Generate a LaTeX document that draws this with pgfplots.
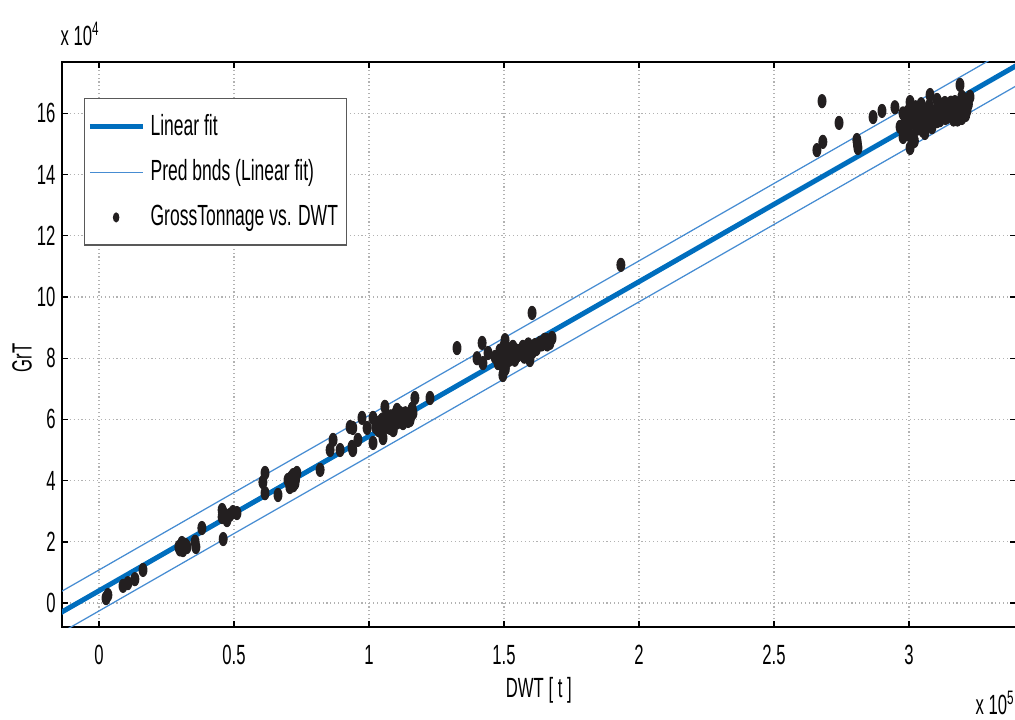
\documentclass[border=0pt]{standalone}
\usepackage{fontspec}
\setmainfont{Liberation Sans}[FakeStretch=0.6]
\usepackage{pgfplots}
\pgfplotsset{compat=1.18}
\definecolor{fitblue}{RGB}{0,110,190}
\definecolor{bndblue}{RGB}{70,140,210}
\definecolor{dotcol}{RGB}{35,31,32}
\pgfplotsset{
  linelegend/.style={legend image code/.code={\draw[##1] (0pt,0pt) -- (19pt,0pt);}},
  dotlegend/.style={legend image code/.code={\draw[##1, mark size=1.6pt] plot coordinates {(9.5pt,0pt)};}},
}
\begin{document}
\begin{tikzpicture}
\useasboundingbox (0pt,0pt) rectangle (365.4pt,258.84pt);
\begin{axis}[
  at={(22.32pt,33.12pt)}, anchor=south west,
  scale only axis, width=343.3pt, height=203.4pt,
  xmin=-0.137, xmax=3.395, ymin=-0.784, ymax=17.68,
  xtick={0,0.5,1,1.5,2,2.5,3}, ytick={0,2,4,6,8,10,12,14,16},
  scaled ticks=false,
  /pgf/number format/assume math mode=true,
  xticklabel style={/pgf/number format/fixed, yshift=-3pt},
  yticklabel style={xshift=1.2pt},
  tick label style={font=\fontsize{10}{12}\selectfont},
  tick align=inside, major tick length=2.2pt,
  tick style={black, line width=0.5pt},
  grid=major,
  major grid style={gray!60, densely dotted, line width=0.45pt},
  axis line style={black, line width=0.6pt},
  xlabel={DWT [ t ]}, ylabel={GrT},
  every axis x label/.style={at={(rel axis cs:0.5,0)}, anchor=center, yshift=-22.7pt, font=\fontsize{10}{12}\selectfont},
  every axis y label/.style={at={(rel axis cs:-0.042,0.476)}, anchor=center, rotate=90, font=\fontsize{10}{12}\selectfont},
  legend style={at={(rel axis cs:0.023,0.936)}, anchor=north west,
    draw=gray!70!black, fill=white, font=\fontsize{10.5}{12}\selectfont,
    row sep=3.3pt, inner xsep=1pt, inner ysep=3.5pt, cells={anchor=west}},
  legend cell align=left,
]
\addplot[fitblue, line width=1.8pt, linelegend]
  coordinates {(-0.2,-0.61) (0,0.40) (0.5,2.93) (1,5.45) (1.5,7.98) (2,10.50) (2.5,13.03) (3,15.55) (3.5,18.08)};
\addlegendentry{Linear fit}
\addplot[bndblue, line width=0.45pt, linelegend]
  coordinates {(-0.2,0.07) (0,1.08) (0.5,3.61) (1,6.13) (1.5,8.66) (2,11.18) (2.5,13.71) (3,16.23) (3.5,18.76)};
\addlegendentry{Pred bnds (Linear fit)}
\addplot[bndblue, line width=0.45pt, forget plot]
  coordinates {(-0.2,-1.27) (0,-0.26) (0.5,2.27) (1,4.79) (1.5,7.32) (2,9.84) (2.5,12.37) (3,14.89) (3.5,17.42)};
\addplot[only marks, mark=*, mark size=2.35pt, color=dotcol,
  mark options={xscale=0.6, fill=dotcol, draw=dotcol}, dotlegend]
  coordinates {
(0.026,0.16)(0.033,0.26)(0.089,0.56)(0.107,0.65)(0.133,0.78)(0.163,1.08)
(0.296,1.83)(0.311,1.73)(0.326,1.83)(0.307,1.96)(0.356,2.0)(0.359,1.83)(0.381,2.45)(0.30,1.75)(0.32,1.9)
(0.456,3.04)(0.456,2.81)(0.46,2.09)(0.474,2.71)(0.496,2.97)(0.511,2.94)(0.485,2.88)(0.46,2.95)(0.47,2.85)
(0.615,4.25)(0.607,3.95)(0.615,3.59)(0.663,3.53)(0.70,4.02)(0.719,4.18)(0.733,4.25)(0.707,3.79)(0.726,3.92)(0.712,4.1)(0.72,3.85)(0.705,4.0)(0.728,4.05)(0.716,3.95)
(0.819,4.35)(0.856,5.0)(0.867,5.33)(0.893,5.0)(0.93,5.75)(0.94,5.72)(0.937,5.1)(0.94,5.0)(0.959,5.33)(0.974,6.05)(0.993,5.72)(1.015,5.23)(1.015,6.05)(1.033,5.88)(1.048,5.56)(1.059,6.41)(1.067,6.08)(1.089,5.98)(1.115,6.21)(1.126,5.88)(1.152,5.98)(1.163,6.21)(1.17,6.7)(1.226,6.7)(1.078,5.72)(1.052,5.39)(1.104,6.31)(1.04,5.8)(1.06,5.9)(1.08,6.1)(1.10,6.0)(1.12,6.1)(1.14,6.1)(1.05,6.0)(1.07,5.75)(1.13,6.05)
(1.035,5.65)(1.045,5.95)(1.065,5.85)(1.085,5.8)(1.095,6.15)(1.105,5.9)(1.118,5.95)(1.135,6.2)(1.145,5.95)(1.155,6.1)(1.16,6.35)(1.025,5.75)(1.09,5.65)
(1.326,8.33)(1.419,8.5)(1.4,8.0)(1.422,7.84)(1.441,8.17)(1.467,8.04)(1.478,7.84)(1.496,7.45)(1.504,8.59)(1.504,8.27)(1.511,7.88)(1.522,8.04)(1.533,8.37)(1.552,8.1)(1.57,8.37)(1.585,8.17)(1.596,7.94)(1.604,9.48)(1.615,8.43)(1.633,8.5)(1.659,8.59)(1.67,8.5)(1.678,8.66)(1.49,8.1)(1.50,8.0)(1.51,8.15)(1.52,7.95)(1.49,7.9)(1.50,8.4)(1.58,8.3)(1.59,8.1)(1.60,8.3)(1.64,8.45)(1.66,8.45)
(1.485,8.25)(1.495,7.75)(1.505,7.65)(1.515,8.3)(1.525,8.2)(1.54,7.95)(1.545,8.25)(1.56,8.25)(1.575,8.05)(1.59,8.45)(1.605,8.2)(1.62,8.3)(1.65,8.6)
(1.933,11.05)
(2.678,16.4)(2.659,14.8)(2.681,15.07)(2.741,15.69)(2.807,15.13)(2.811,14.87)(2.809,15.0)(2.867,15.88)(2.9,16.08)
(2.948,16.2)(2.978,16.0)(2.978,15.23)(3.004,16.37)(3.004,14.87)(3.011,15.69)(3.015,15.23)(2.993,15.78)(3.03,16.0)(3.04,15.56)(3.059,15.36)(3.067,15.78)(3.078,16.6)(3.089,16.0)(3.104,16.44)(3.115,15.78)(3.133,16.34)(3.141,15.88)(3.152,16.18)(3.17,16.37)(3.178,16.0)(3.189,16.93)(3.196,16.54)(3.196,15.85)(3.215,16.1)(3.226,16.54)(3.207,16.2)(2.967,15.56)
(2.99,15.9)(3.0,15.6)(3.01,16.0)(3.02,15.8)(3.03,15.5)(3.05,15.9)(3.06,16.1)(3.07,15.6)(3.08,15.9)(3.09,15.7)(3.10,16.1)(3.11,16.0)(3.12,15.9)(3.13,16.1)(3.14,16.2)(3.16,15.9)(3.17,16.2)(3.18,15.8)(3.19,16.1)(3.20,16.3)(3.21,15.95)(3.22,16.3)(2.98,15.4)(3.0,15.3)(3.02,15.1)(3.025,16.2)(3.045,16.3)(3.005,16.2)
(2.985,15.65)(2.995,16.05)(3.015,15.95)(3.025,15.65)(3.035,15.85)(3.055,15.7)(3.065,16.0)(3.075,16.25)(3.085,15.55)(3.095,15.9)(3.105,15.75)(3.115,16.3)(3.125,16.1)(3.135,15.85)(3.145,16.0)(3.155,16.35)(3.165,16.05)(3.175,15.9)(3.185,16.3)(3.195,16.2)(3.205,16.45)(3.215,16.35)(3.185,15.95)(3.165,15.8)(3.05,15.45)(3.0,15.95)(3.04,16.15)
  };
\addlegendentry{GrossTonnage vs. DWT}
\end{axis}
\node[anchor=base west, inner sep=0pt, font=\fontsize{10}{12}\selectfont] at (21.6pt,242.6pt) {x 10\textsuperscript{4}};
\node[anchor=base west, inner sep=0pt, font=\fontsize{10}{12}\selectfont] at (351pt,1.6pt) {x 10\textsuperscript{5}};
\end{tikzpicture}
\end{document}
